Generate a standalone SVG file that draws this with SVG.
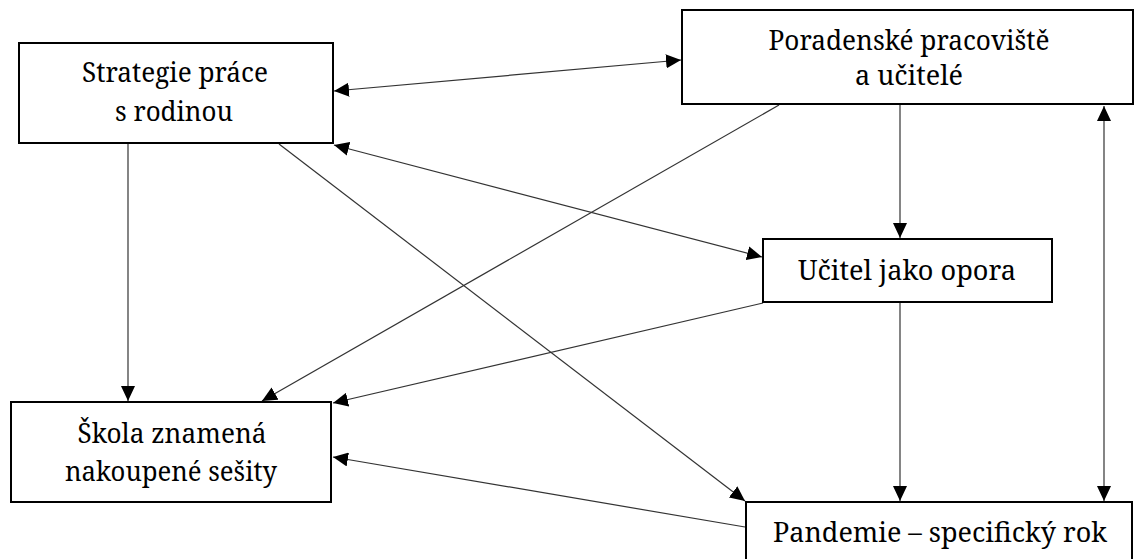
<svg xmlns="http://www.w3.org/2000/svg" width="1137" height="559" viewBox="0 0 1137 559">
<style>
.box{fill:#fff;stroke:#000;stroke-width:2}
.t{font-family:'Noto Serif','DejaVu Serif','Liberation Serif',serif;font-size:28px;fill:#000;text-anchor:middle}
.c line{stroke:#333;stroke-width:1.2;fill:none}
</style>
<defs>
<marker id="ah" markerUnits="userSpaceOnUse" markerWidth="16" markerHeight="14" refX="15" refY="7" orient="auto-start-reverse" viewBox="0 0 16 14">
<path d="M0,0 L15,7 L0,14 Z" fill="#000"/>
</marker>
</defs>
<rect width="1137" height="559" fill="#fff"/>
<g class="c" id="connectors">
<line x1="334" y1="91" x2="681" y2="60" marker-start="url(#ah)" marker-end="url(#ah)"/>
<line x1="334" y1="145" x2="762" y2="257" marker-start="url(#ah)" marker-end="url(#ah)"/>
<line x1="128" y1="144" x2="128" y2="401" marker-end="url(#ah)"/>
<line x1="279" y1="144" x2="745" y2="501" marker-end="url(#ah)"/>
<line x1="779" y1="105" x2="262" y2="401" marker-end="url(#ah)"/>
<line x1="900" y1="105" x2="900" y2="238" marker-end="url(#ah)"/>
<line x1="763" y1="303" x2="333" y2="403" marker-end="url(#ah)"/>
<line x1="745" y1="527" x2="333" y2="457" marker-end="url(#ah)"/>
<line x1="900" y1="303" x2="900" y2="501" marker-end="url(#ah)"/>
<line x1="1104" y1="106" x2="1104" y2="501" marker-start="url(#ah)" marker-end="url(#ah)"/>
</g>
<g id="strategie">
<rect class="box" x="19" y="43" width="314" height="100"/>
<text class="t" x="175" y="82" textLength="186" lengthAdjust="spacingAndGlyphs">Strategie práce</text>
<text class="t" x="174" y="121" textLength="118" lengthAdjust="spacingAndGlyphs">s rodinou</text>
</g>
<g id="poradenske">
<rect class="box" x="682" y="10" width="451" height="94"/>
<text class="t" x="909" y="50" textLength="281" lengthAdjust="spacingAndGlyphs">Poradenské pracoviště</text>
<text class="t" x="909" y="85" textLength="108" lengthAdjust="spacingAndGlyphs">a učitelé</text>
</g>
<g id="ucitel">
<rect class="box" x="763" y="239" width="289" height="63"/>
<text class="t" x="907" y="280" textLength="218" lengthAdjust="spacingAndGlyphs">Učitel jako opora</text>
</g>
<g id="skola">
<rect class="box" x="11" y="402" width="320" height="100"/>
<text class="t" x="172" y="443" textLength="189" lengthAdjust="spacingAndGlyphs">Škola znamená</text>
<text class="t" x="171" y="481" textLength="212" lengthAdjust="spacingAndGlyphs">nakoupené sešity</text>
</g>
<g id="pandemie">
<rect class="box" x="746" y="502" width="386" height="70"/>
<text class="t" x="940" y="542" textLength="334" lengthAdjust="spacingAndGlyphs">Pandemie – specifický rok</text>
</g>
</svg>
